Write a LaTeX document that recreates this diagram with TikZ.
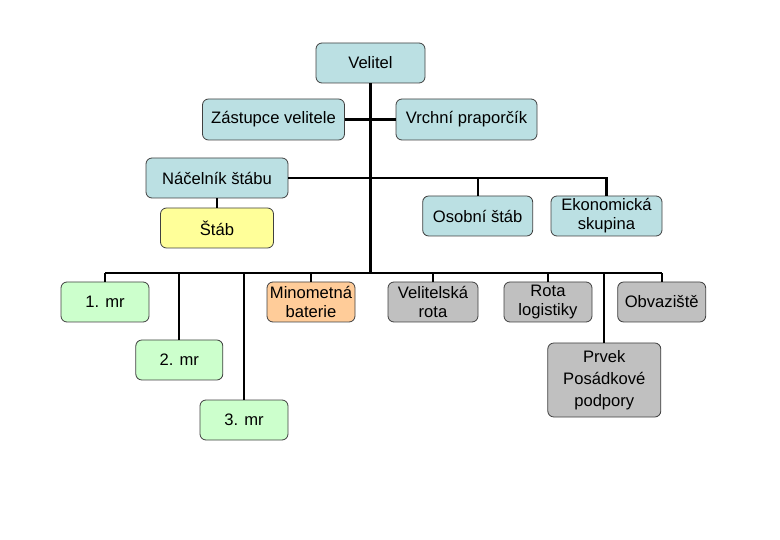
\documentclass[tikz,border=0pt]{standalone}
\usepackage{fontspec}
\setmainfont{Liberation Sans}
\usepackage{tikz}
\usetikzlibrary{positioning}
\definecolor{unitblue}{HTML}{BBE0E3}
\definecolor{unitgreen}{HTML}{CCFFCC}
\definecolor{unityellow}{HTML}{FFFF99}
\definecolor{unitorange}{HTML}{FFCC99}
\definecolor{unitgray}{HTML}{C0C0C0}
\definecolor{framegray}{HTML}{404040}

\begin{document}
\begin{tikzpicture}[
    x=1pt, y=-1pt,
    every node/.style={font=\fontsize{16.6}{19}\selectfont},
    unit/.style={
        rectangle,
        rounded corners=6pt,
        draw=framegray,
        line width=0.8pt,
        fill=unitblue,
        minimum width=88pt,
        minimum height=40pt,
        inner sep=1pt,
        align=center
    },
    link/.style={line width=2.4pt, black},
    drop/.style={line width=2pt, black}
]
\useasboundingbox (0,0) rectangle (780,540);

\node[unit, minimum width=109pt] (velitel) at (370.5,63) {Velitel};
\node[unit, minimum width=142pt, minimum height=41pt] (zastupce) at (273.5,119.5) {Zástupce velitele};
\node[unit, minimum width=141pt, minimum height=41pt] (vrchni) at (466.5,119.5) {Vrchní praporčík};
\node[unit, minimum width=142pt] (nacelnik) at (217,178) {Náčelník štábu};
\node[unit, minimum width=113pt, fill=unityellow] (stab) at (217,228) {Štáb};
\node[unit, minimum width=110pt] (osobni) at (477.7,216) {Osobní štáb};
\node[unit, minimum width=111pt] (ekonom) at (606.5,216) {Ekonomická\\skupina};

\node[unit, fill=unitgreen] (mr1) at (105,302) {1. mr};
\node[unit, minimum width=87pt, fill=unitgreen] (mr2) at (179.3,360) {2. mr};
\node[unit, fill=unitgreen] (mr3) at (244,420) {3. mr};
\node[unit, fill=unitorange] (minomet) at (311,302) {Minometná\\baterie};
\node[unit, minimum width=90pt, fill=unitgray] (velrota) at (433,302) {Velitelská\\rota};
\node[unit, fill=unitgray] (rotalog) at (548,302) {Rota\\logistiky};
\node[unit, minimum width=113pt, minimum height=74pt, fill=unitgray,
      font=\fontsize{16.6}{22}\selectfont] (prvek) at (604.3,380) {Prvek\\Posádkové\\podpory};
\node[unit, fill=unitgray] (obvaz) at (661.7,302) {Obvaziště};

\coordinate (hub) at (velitel.south |- 0,273);

\draw[link] (velitel.south) -- (hub);
\draw[link] (zastupce.east) -- (vrchni.west);
\draw[link] (nacelnik.east) -- (ekonom.north |- nacelnik.east) -- (ekonom.north);
\draw[drop] (osobni.north) -- (osobni.north |- nacelnik.east);
\draw[drop] (nacelnik.south) -- (stab.north);
\draw[link] (mr1.north |- hub) -- (obvaz.north |- hub);

\draw[drop] (mr1.north) -- (mr1.north |- hub);
\draw[drop] (mr2.north) -- (mr2.north |- hub);
\draw[drop] (mr3.north) -- (mr3.north |- hub);
\draw[drop] (minomet.north) -- (minomet.north |- hub);
\draw[drop] (velrota.north) -- (velrota.north |- hub);
\draw[drop] (rotalog.north) -- (rotalog.north |- hub);
\draw[drop] (prvek.north) -- (prvek.north |- hub);
\draw[drop] (obvaz.north) -- (obvaz.north |- hub);

\end{tikzpicture}
\end{document}
